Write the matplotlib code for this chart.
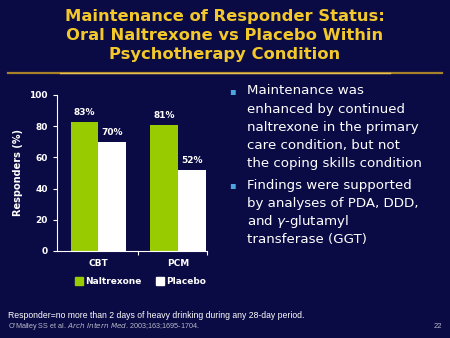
import matplotlib
matplotlib.use("Agg")
import matplotlib.pyplot as plt
from matplotlib.lines import Line2D
from matplotlib.patches import Rectangle

W, H = 450, 338
BG = "#0a0a44"
GREEN = "#99cc00"
GOLD = "#f2c82a"

groups = ["CBT", "PCM"]
naltrexone = [83, 81]
placebo = [70, 52]
yticks = [0, 20, 40, 60, 80, 100]

title_lines = ["Maintenance of Responder Status:",
               "Oral Naltrexone vs Placebo Within",
               "Psychotherapy Condition"]
bullets = [
    ["Maintenance was", "enhanced by continued", "naltrexone in the primary",
     "care condition, but not", "the coping skills condition"],
    ["Findings were supported", "by analyses of PDA, DDD,",
     r"and $\gamma$-glutamyl", "transferase (GGT)"],
]


def fx(px):
    return px / W


def fy(py):
    return 1 - py / H


fig = plt.figure(figsize=(4.5, 3.38), dpi=100)
fig.patch.set_facecolor(BG)

# title block
for i, line in enumerate(title_lines):
    fig.text(0.5, fy(17 + i * 18.5), line, color=GOLD, fontsize=11.8,
             fontweight="bold", ha="center", va="center",
             family="DejaVu Sans")
fig.add_artist(Line2D([fx(8), fx(442)], [fy(73), fy(73)], color="#a8822a",
                      lw=1.6, transform=fig.transFigure))
fig.add_artist(Line2D([fx(60), fx(390)], [fy(73), fy(73)], color="#e8c050",
                      lw=1.0, transform=fig.transFigure))

# bar chart
ax = fig.add_axes([fx(57), fy(251), fx(207) - fx(57), (251 - 95) / H])
ax.set_facecolor(BG)
w = 0.35
xs = range(len(groups))
ax.bar([x - w / 2 for x in xs], naltrexone, w, color=GREEN)
ax.bar([x + w / 2 for x in xs], placebo, w, color="white")
for x, a, b in zip(xs, naltrexone, placebo):
    ax.text(x - w / 2, a + 3, f"{a}%", color="white", fontsize=6.5,
            fontweight="bold", ha="center", va="bottom")
    ax.text(x + w / 2, b + 3, f"{b}%", color="white", fontsize=6.5,
            fontweight="bold", ha="center", va="bottom")
ax.set_xlim(-0.52, 1.36)
ax.set_ylim(0, 100)
ax.set_yticks(yticks)
ax.set_xticks([0.5, 1.36], labels=["", ""])
ax.tick_params(axis="y", colors="white", labelsize=6.5, length=3, width=0.8)
ax.tick_params(axis="x", colors="white", length=3, width=0.8)
for lab in ax.get_yticklabels():
    lab.set_fontweight("bold")
for s in ["top", "right"]:
    ax.spines[s].set_visible(False)
for s in ["left", "bottom"]:
    ax.spines[s].set_color("white")
    ax.spines[s].set_linewidth(0.8)
for x, g in zip(xs, groups):
    ax.text(x, -5, g, color="white", fontsize=6.5, fontweight="bold",
            ha="center", va="top")
ax.set_ylabel("Responders (%)", color="white", fontsize=7, fontweight="bold")
ax.yaxis.set_label_coords(-0.227, 0.5)

# legend
for px, col, lab in [(75, GREEN, "Naltrexone"), (156, "white", "Placebo")]:
    fig.add_artist(Rectangle((fx(px), fy(285)), 8 / W, 8 / H, color=col,
                             transform=fig.transFigure))
    fig.text(fx(px + 10), fy(281), lab, color="white", fontsize=6.5,
             fontweight="bold", va="center", ha="left")

# bullet text
y = 91
for block in bullets:
    fig.text(fx(232), fy(y), "\u25aa", color="#4aa8e0", fontsize=7,
             ha="center", va="center")
    for line in block:
        fig.text(fx(247), fy(y), line, color="white", fontsize=9.6,
                 ha="left", va="center")
        y += 18
    y += 4

# footer
fig.text(fx(8), fy(315), "Responder=no more than 2 days of heavy drinking during any 28-day period.",
         color="white", fontsize=6.2, family="Liberation Sans", va="center")
fig.text(fx(8), fy(326),
         "O'Malley SS et al. $\\it{Arch\\ Intern\\ Med}$. 2003;163;1695-1704.",
         color="#b8b8c8", fontsize=5.2, family="Liberation Sans", va="center")
fig.text(fx(442), fy(326), "22", color="#b8b8c8", fontsize=5.5,
         family="Liberation Sans", va="center", ha="right")

fig.savefig("out.png", dpi=100, facecolor=BG)
